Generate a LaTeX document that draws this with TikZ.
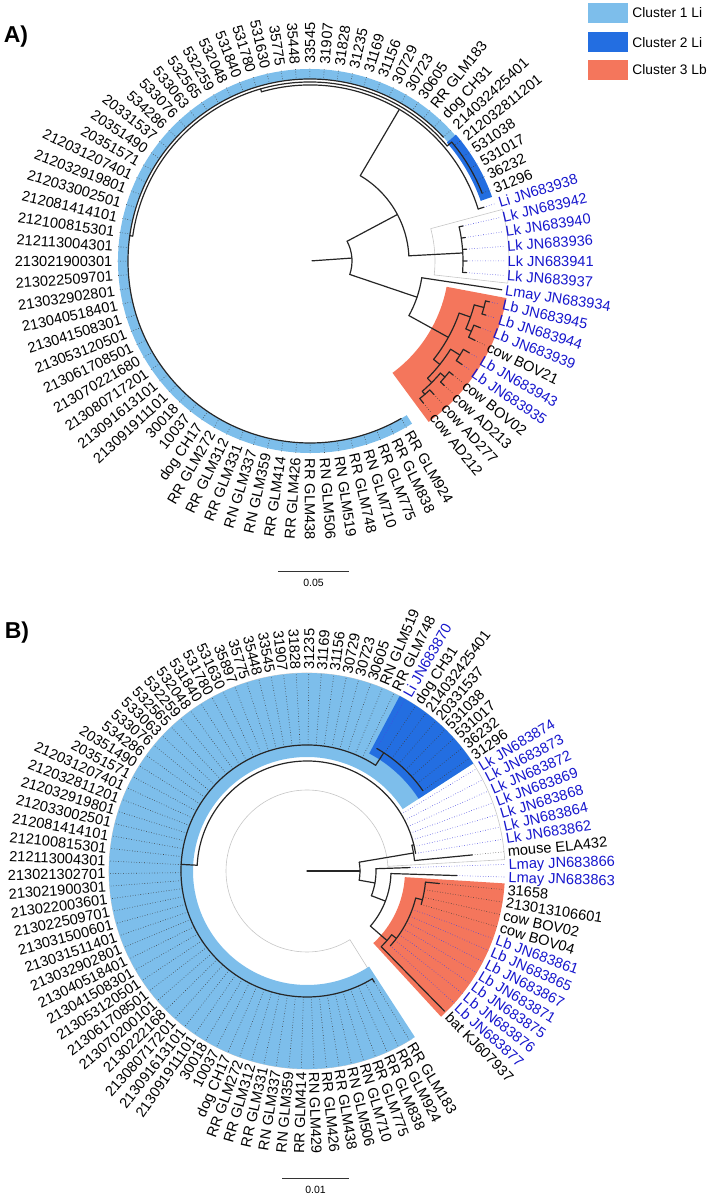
\documentclass[tikz,border=0pt]{standalone}
\usepackage{fontspec}
\setmainfont{Liberation Sans}
\usetikzlibrary{positioning}

\definecolor{labk}{RGB}{0,0,0}
\definecolor{labb}{RGB}{22,22,205}
\definecolor{dotlabk}{RGB}{60,60,60}
\definecolor{dotlabb}{RGB}{70,70,225}
\definecolor{clusterone}{RGB}{125,190,235}
\definecolor{clustertwo}{RGB}{35,110,225}
\definecolor{clusterthree}{RGB}{244,118,92}

% radial branch: angle, r1, r2
\newcommand{\radial}[3]{\draw[branch] (#1:#2) -- (#1:#3);}
% arc branch: radius, angle1, angle2
\newcommand{\arcbr}[3]{\draw[branch] (#2:#1) arc[start angle=#2, end angle=#3, radius=#1];}
% clade highlight: style, angle1, angle2, r inner, r outer
\newcommand{\hilite}[5]{\path[#1] (#2:#4) arc[start angle=#2, end angle=#3, radius=#4]
  -- (#3:#5) arc[start angle=#3, end angle=#2, radius=#5] -- cycle;}

\begin{document}
\begin{tikzpicture}[x=1pt, y=1pt,
    branch/.style={line width=1.2pt, black!85, line cap=round},
    tipdot/.style={dotted, line width=0.6pt},
    lab/.style={font=\fontsize{14.6}{16}\selectfont, inner sep=0.5pt, text height=10.5pt, text depth=0pt},
    panel/.style={font=\fontsize{23}{26}\selectfont\bfseries, inner sep=0pt},
    key/.style={minimum width=40pt, minimum height=20pt, inner sep=0pt},
    keytext/.style={font=\fontsize{13.8}{16}\selectfont, inner sep=0pt},
    scalebar/.style={line width=0.8pt, black!80},
    scaletext/.style={font=\fontsize{10.5}{12}\selectfont, inner sep=0pt}
  ]
  \useasboundingbox (0,0) rectangle (716,1199);
  \coordinate (cA) at (310,938);
  \coordinate (cB) at (307,328);

  % legend
  \node[key, fill=clusterone] (k1) at (608,1186) {};
  \node[key, fill=clustertwo, below=9pt of k1] (k2) {};
  \node[key, fill=clusterthree, below=7pt of k2] (k3) {};
  \node[keytext, right=4pt of k1] (k1t) {Cluster 1 Li};
  \node[keytext, right=4pt of k2] (k2t) {Cluster 2 Li};
  \node[keytext, right=4pt of k3] (k3t) {Cluster 3 Lb};

  \node[panel] (pa) at (16,1162) {A)};
  \node[panel] (pb) at (17,566) {B)};

  % ---------------- tree A ----------------
  \begin{scope}[shift={(cA)}]
    \hilite{draw=gray!45, line width=0.6pt}{-6.4}{15}{125}{199}
    \hilite{fill=clusterone}{40.9}{302.1}{182}{192}
    \hilite{fill=clustertwo}{19.4}{40.9}{181}{193}
    \hilite{fill=clusterthree}{-53.6}{-10.7}{139}{200}

    \foreach \cl/\tr/\tx [count=\i from 0] in {
      labk/182/cow AD212, labk/182/cow AD277, labk/183/cow AD213, labk/183/cow BOV02,
      labb/184/Lb JN683935, labb/184/Lb JN683943, labk/183/cow BOV21, labb/183/Lb JN683939,
      labb/184/Lb JN683944, labb/184/Lb JN683945, labb/194/Lmay JN683934,
      labb/157/Lk JN683937, labb/157/Lk JN683941, labb/157/Lk JN683936, labb/157/Lk JN683940,
      labb/157/Lk JN683942, labb/182/Li JN683938,
      labk/186/31296, labk/186/36232, labk/186/531017, labk/186/531038, labk/186/212032811201,
      labk/184/214032425401, labk/184/dog CH31, labk/184/RR GLM183, labk/184/30605,
      labk/184/30723, labk/184/30729, labk/184/31156, labk/184/31169, labk/184/31235,
      labk/184/31828, labk/184/31907, labk/184/33545, labk/184/35448, labk/184/35775,
      labk/184/531630, labk/184/531780, labk/184/531840, labk/184/532048, labk/184/532259,
      labk/184/532565, labk/184/533063, labk/184/533076, labk/184/534286, labk/184/20331537,
      labk/184/20351490, labk/184/20351571, labk/184/212031207401, labk/184/212032919801,
      labk/184/212033002501, labk/184/212081414101, labk/184/212100815301,
      labk/184/212113004301, labk/184/213021900301, labk/184/213022509701,
      labk/184/213032902801, labk/184/213040518401, labk/184/213041508301,
      labk/184/213053120501, labk/184/213061708501, labk/184/213070221680,
      labk/184/213080717201, labk/184/213091613101, labk/184/213091911101,
      labk/184/30018, labk/184/10037, labk/184/dog CH17, labk/184/RR GLM272,
      labk/184/RR GLM312, labk/184/RR GLM331, labk/184/RN GLM337, labk/184/RN GLM359,
      labk/184/RR GLM414, labk/184/RR GLM426, labk/184/RR GLM438, labk/184/RN GLM506,
      labk/184/RN GLM519, labk/184/RR GLM748, labk/184/RN GLM710, labk/184/RR GLM775,
      labk/184/RR GLM838, labk/184/RR GLM924} {
      \pgfmathsetmacro\a{-51.4+4.286*\i}
      \draw[tipdot, dot\cl] (\a:\tr) -- (\a:194);
      \ifdim\a pt>90.5pt\relax
        \ifdim\a pt<270pt\relax
          \pgfmathsetmacro\b{\a-180}
          \node[lab, text=\cl, anchor=east, rotate=\b] (lA\i) at (\a:197) {\tx};
        \else
          \node[lab, text=\cl, anchor=west, rotate=\a] (lA\i) at (\a:197) {\tx};
        \fi
      \else
        \node[lab, text=\cl, anchor=west, rotate=\a] (lA\i) at (\a:197) {\tx};
      \fi
    }

    % root and upper part
    \draw[branch] (4:2) -- (4:42);
    \arcbr{42}{-18.7}{28}
    \radial{28}{42}{99}
    \arcbr{99}{3}{59.5}
    \radial{3}{99}{153}
    \arcbr{153}{-4.25}{12.89}
    \foreach \i in {11,...,15} {\pgfmathsetmacro\a{-51.4+4.286*\i}\radial{\a}{153}{157}}
    \radial{59.5}{99}{176}
    \arcbr{176}{17.18}{106}
    \radial{17.18}{176}{182}
    \radial{106}{176}{179}
    \arcbr{179}{40}{172}
    \radial{40}{179}{185}
    \arcbr{185}{21.46}{40}
    \radial{172}{179}{182}
    \arcbr{182}{42.89}{300.05}
    % lower part
    \radial{-18.7}{42}{113}
    \arcbr{113}{-28.9}{-8.54}
    \radial{-8.54}{113}{194}
    \radial{-28.9}{113}{158}
    \arcbr{158}{-38.54}{-19.26}
    \radial{-19.26}{158}{170}
    \arcbr{170}{-23.54}{-14.97}
    \radial{-14.97}{170}{180}
    \arcbr{180}{-17.11}{-12.83}
    \radial{-23.54}{170}{176}
    \arcbr{176}{-25.68}{-21.4}
    \radial{-38.54}{158}{166}
    \arcbr{166}{-44.97}{-32.11}
    \radial{-32.11}{166}{177}
    \arcbr{177}{-34.26}{-29.97}
    \radial{-44.97}{166}{172}
    \arcbr{172}{-49.26}{-40.69}
    \radial{-40.69}{172}{178}
    \arcbr{178}{-42.83}{-38.54}
    \radial{-49.26}{172}{176}
    \arcbr{176}{-51.4}{-47.11}
    \foreach \i/\ro/\rt in {0/176/182, 1/176/182, 2/178/183, 3/178/183, 4/177/184,
      5/177/184, 6/176/183, 7/176/183, 8/180/184, 9/180/184}
      {\pgfmathsetmacro\a{-51.4+4.286*\i}\radial{\a}{\ro}{\rt}}
  \end{scope}

  \draw[scalebar] (278,628) -- (349,628);
  \node[scaletext] (sA) at (313.5,616) {0.05};

  % ---------------- tree B ----------------
  \begin{scope}[shift={(cB)}]
    \hilite{draw=gray!45, line width=0.6pt}{3.3}{302}{81}{198}
    \hilite{fill=clusterone}{32.9}{303}{114}{198}
    \hilite{fill=clustertwo}{32.9}{62.1}{133}{198}
    \hilite{fill=clusterthree}{-47.4}{-3.6}{98}{198}

    \foreach \cl/\tr/\tx [count=\i from 0] in {
      labk/196/bat KJ607937, labb/112/Lb JN683877, labb/112/Lb JN683876, labb/112/Lb JN683875,
      labb/112/Lb JN683871, labb/112/Lb JN683867, labb/112/Lb JN683865, labb/112/Lb JN683861,
      labk/119/cow BOV04, labk/119/cow BOV02, labk/119/213013106601, labk/133/31658,
      labb/150/Lmay JN683863, labb/103/Lmay JN683866, labk/166/mouse ELA432,
      labb/110/Lk JN683862, labb/110/Lk JN683864, labb/110/Lk JN683868, labb/110/Lk JN683869,
      labb/110/Lk JN683872, labb/110/Lk JN683873, labb/110/Lk JN683874,
      labk/141/31296, labk/141/36232, labk/141/531017, labk/141/531038, labk/141/20331537,
      labk/141/214032425401, labk/141/dog CH31, labb/141/Li JN683870,
      labk/126/RR GLM748, labk/126/RN GLM519, labk/126/30605, labk/126/30723, labk/126/30729,
      labk/126/31156, labk/126/31169, labk/126/31235, labk/126/31828, labk/126/31907,
      labk/126/33545, labk/126/35448, labk/126/35775, labk/126/35897, labk/126/531630,
      labk/126/531780, labk/126/531840, labk/126/532048, labk/126/532259, labk/126/532565,
      labk/126/533063, labk/126/533076, labk/126/534286, labk/126/20351490, labk/126/20351571,
      labk/126/212031207401, labk/126/212032811201, labk/126/212032919801,
      labk/126/212033002501, labk/126/212081414101, labk/126/212100815301,
      labk/126/212113004301, labk/126/213021302701, labk/126/213021900301,
      labk/126/213022003601, labk/126/213022509701, labk/126/213031500601,
      labk/126/213031511401, labk/126/213032902801, labk/126/213040518401,
      labk/126/213041508301, labk/126/213053120501, labk/126/213061708501,
      labk/126/213070200101, labk/126/2130222168, labk/126/213080717201,
      labk/126/213091613101, labk/126/213091911101, labk/126/30018, labk/126/10037,
      labk/126/dog CH17, labk/126/RR GLM272, labk/126/RR GLM312, labk/126/RR GLM331,
      labk/126/RN GLM337, labk/126/RN GLM359, labk/126/RR GLM414, labk/126/RN GLM429,
      labk/126/RR GLM426, labk/126/RR GLM438, labk/126/RN GLM506, labk/126/RN GLM710,
      labk/126/RR GLM775, labk/126/RR GLM838, labk/126/RR GLM924, labk/126/RR GLM183} {
      \pgfmathsetmacro\a{-45.55+3.65*\i}
      \draw[tipdot, dot\cl] (\a:\tr) -- (\a:198);
      \ifdim\a pt>90.5pt\relax
        \ifdim\a pt<270pt\relax
          \pgfmathsetmacro\b{\a-180}
          \node[lab, text=\cl, anchor=east, rotate=\b] (lB\i) at (\a:201) {\tx};
        \else
          \node[lab, text=\cl, anchor=west, rotate=\a] (lB\i) at (\a:201) {\tx};
        \fi
      \else
        \node[lab, text=\cl, anchor=west, rotate=\a] (lB\i) at (\a:201) {\tx};
      \fi
    }

    % root and upper part
    \draw[branch] (0:0) -- (0:53);
    \arcbr{53}{-10}{9.6}
    \radial{9.6}{53}{108}
    \arcbr{108}{5.55}{13.8}
    \radial{5.55}{108}{166}
    \radial{13.8}{108}{110}
    \arcbr{110}{9.2}{177}
    \radial{177}{110}{126}
    \arcbr{126}{57}{301.2}
    \radial{301.2}{126}{130}
    \radial{57}{126}{141}
    \arcbr{141}{34.75}{60.3}
    % lower part
    \radial{-10}{53}{69}
    \arcbr{69}{-21}{1.9}
    \radial{1.9}{69}{103}
    \radial{-21}{69}{84}
    \arcbr{84}{-41}{-1.75}
    \radial{-1.75}{84}{150}
    \radial{-41}{84}{106}
    \arcbr{106}{-45.55}{-37}
    \radial{-45.55}{106}{196}
    \radial{-37}{106}{112}
    \arcbr{112}{-41.9}{-14}
    \radial{-14}{112}{119}
    \arcbr{119}{-16.35}{-5.4}
    \radial{-5.4}{119}{133}
  \end{scope}

  \draw[scalebar] (282,21) -- (349,21);
  \node[scaletext] (sB) at (315.5,9) {0.01};
\end{tikzpicture}
\end{document}
